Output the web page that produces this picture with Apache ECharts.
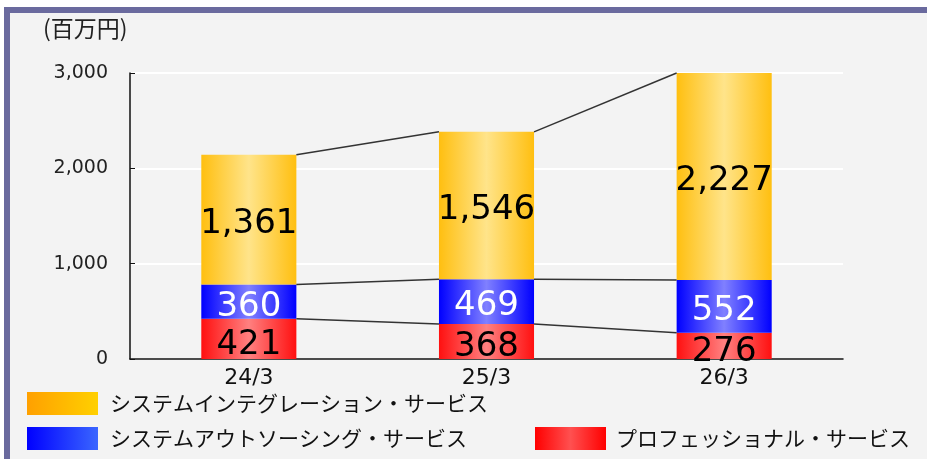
<!DOCTYPE html>
<html>
<head>
    <meta charset="utf-8">
    <title>売上高推移</title>
    <script src="https://cdnjs.cloudflare.com/ajax/libs/echarts/6.0.0/echarts.min.js"></script>
    <style>
        html, body { margin: 0; padding: 0; background: #fff; }
        #chart { width: 927px; height: 459px; }
    </style>
</head>
<body>
    <div id="chart"></div>
    <script>
        // データ
        var categories = ['24/3', '25/3', '26/3'];
        var professional = [421, 368, 276];
        var outsourcing = [360, 469, 552];
        var integration = [1361, 1546, 2227];
        var yTicks = [0, 1000, 2000, 3000];

        var names = [
            'プロフェッショナル・サービス',
            'システムアウトソーシング・サービス',
            'システムインテグレーション・サービス'
        ];

        function grad(edge, mid) {
            return new echarts.graphic.LinearGradient(0, 0, 1, 0, [
                { offset: 0, color: edge },
                { offset: 0.5, color: mid },
                { offset: 1, color: edge }
            ]);
        }
        function legendGrad(a, b) {
            return new echarts.graphic.LinearGradient(0, 0, 1, 0, [
                { offset: 0, color: a },
                { offset: 1, color: b }
            ]);
        }

        // 区切り線用の累積値（上限3000でクリップ）
        var level1 = professional.slice();
        var level2 = professional.map(function (v, i) { return v + outsourcing[i]; });
        var level3 = level2.map(function (v, i) { return Math.min(3000, v + integration[i]); });
        var connectors = [];
        [level1, level2, level3].forEach(function (lv) {
            for (var i = 0; i < categories.length - 1; i++) {
                connectors.push([i, lv[i], lv[i + 1]]);
            }
        });

        var labelFont = { fontFamily: 'DejaVu Sans', fontSize: 34 };
        var legendText = { fontSize: 21, color: '#111', fontFamily: "'Noto Sans CJK JP'" };

        var chart = echarts.init(document.getElementById('chart'));
        chart.setOption({
            backgroundColor: '#ffffff',
            animation: false,
            textStyle: { fontFamily: "'Noto Sans CJK JP', sans-serif" },
            graphic: [
                { type: 'rect', z: -10, shape: { x: 4, y: 7, width: 940, height: 470 }, style: { fill: '#6a6a9e' } },
                { type: 'rect', z: -9, shape: { x: 10, y: 13, width: 940, height: 470 }, style: { fill: '#f3f3f3' } },
                { type: 'text', left: 43, top: 17, style: { text: '(百万円)', fontSize: 23, fill: '#222', fontFamily: "'Noto Sans CJK JP'" } }
            ],
            grid: { left: 130, right: 84, top: 73, bottom: 100 },
            legend: [
                {
                    left: 27, top: 392, padding: 0, itemWidth: 71, itemHeight: 23, itemGap: 10,
                    textStyle: Object.assign({ padding: [0, 0, 0, 7] }, legendText),
                    data: [{ name: names[2], icon: 'rect', itemStyle: { color: legendGrad('#ffa000', '#ffd000') } }]
                },
                {
                    left: 27, top: 427, padding: 0, itemWidth: 71, itemHeight: 23,
                    textStyle: Object.assign({ padding: [0, 0, 0, 7] }, legendText),
                    data: [{ name: names[1], icon: 'rect', itemStyle: { color: legendGrad('#0000ff', '#3a66ff') } }]
                },
                {
                    left: 535, top: 427, padding: 0, itemWidth: 71, itemHeight: 23,
                    textStyle: Object.assign({ padding: [0, 0, 0, 5] }, legendText),
                    data: [{ name: names[0], icon: 'rect', itemStyle: { color: grad('#ff0000', '#ff5050') } }]
                }
            ],
            xAxis: {
                type: 'category',
                data: categories,
                axisLine: { lineStyle: { color: '#111', width: 1.5 } },
                axisTick: { inside: true, length: 6, lineStyle: { color: '#111' } },
                axisLabel: { fontSize: 22, color: '#111', margin: 8, fontFamily: 'DejaVu Sans' }
            },
            yAxis: {
                type: 'value',
                min: 0, max: 3000, interval: 1000,
                axisLine: { show: true, lineStyle: { color: '#111', width: 1.5 } },
                axisTick: { show: true, inside: true, length: 5, lineStyle: { color: '#111' } },
                splitLine: { lineStyle: { color: '#ffffff', width: 2 } },
                axisLabel: {
                    fontSize: 19, color: '#222', margin: 22, fontFamily: 'DejaVu Sans',
                    formatter: function (v) { return yTicks.indexOf(v) >= 0 ? v.toLocaleString('en-US') : ''; }
                }
            },
            series: [
                {
                    name: names[0], type: 'bar', stack: 'total', barWidth: '40%',
                    data: professional,
                    itemStyle: { color: grad('#ff1010', '#ff8080') },
                    label: Object.assign({ show: true, position: 'inside', offset: [0, 6], color: '#000',
                        formatter: function (p) { return p.value.toLocaleString('en-US'); } }, labelFont)
                },
                {
                    name: names[1], type: 'bar', stack: 'total', barWidth: '40%',
                    data: outsourcing,
                    itemStyle: { color: grad('#0000ff', '#8080ff') },
                    label: Object.assign({ show: true, position: 'inside', offset: [0, 5], color: '#fff',
                        formatter: function (p) { return p.value.toLocaleString('en-US'); } }, labelFont)
                },
                {
                    name: names[2], type: 'bar', stack: 'total', barWidth: '40%',
                    data: integration,
                    itemStyle: { color: grad('#ffbf10', '#ffe48a') },
                    label: Object.assign({ show: true, position: 'inside', offset: [0, 5], color: '#000',
                        formatter: function (p) { return p.value.toLocaleString('en-US'); } }, labelFont)
                },
                {
                    type: 'custom',
                    silent: true,
                    z: 5,
                    data: connectors,
                    renderItem: function (params, api) {
                        var i = api.value(0);
                        var bw = api.size([1, 0])[0] * 0.4;
                        var p1 = api.coord([i, api.value(1)]);
                        var p2 = api.coord([i + 1, api.value(2)]);
                        return {
                            type: 'line',
                            shape: { x1: p1[0] + bw / 2, y1: p1[1], x2: p2[0] - bw / 2, y2: p2[1] },
                            style: { stroke: '#333', lineWidth: 1.5 }
                        };
                    }
                }
            ]
        });
    </script>
</body>
</html>
